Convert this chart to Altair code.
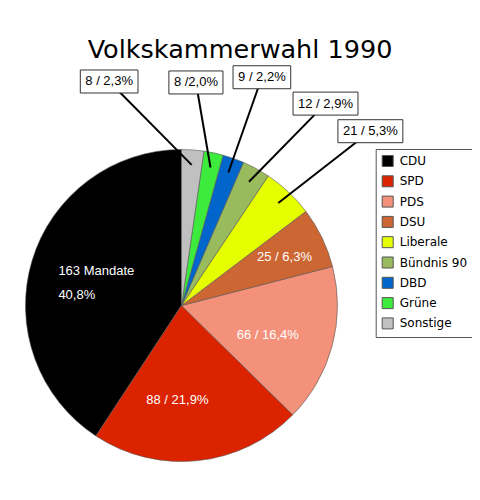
import math
import altair as alt
import pandas as pd

# ---------------- data ----------------
parties = ["CDU", "SPD", "PDS", "DSU", "Liberale", "Bündnis 90", "DBD", "Grüne", "Sonstige"]
seats = [163, 88, 66, 25, 21, 12, 9, 8, 8]
percent = [40.8, 21.9, 16.4, 6.3, 5.3, 2.9, 2.2, 2.0, 2.3]
labels = ["163 Mandate\n40,8%", "88 / 21,9%", "66 / 16,4%", "25 / 6,3%",
          "21 / 5,3%", "12 / 2,9%", "9 / 2,2%", "8 /2,0%", "8 / 2,3%"]
colors = ["#000000", "#dc2300", "#f4917a", "#cc6633", "#e6ff00",
          "#99bb5e", "#0066cc", "#3deb3d", "#c0c0c0"]
chart_title = "Volkskammerwahl 1990"

# ---------------- layout ----------------
W, H = 464, 414          # view size (pixels)
PAD_TOP = 70
CX, CY = 173.5, 227.5    # pie centre inside the view
R = 156                  # pie radius
# inner labels: (radius, angle nudge in degrees from slice middle)
INNER = {"CDU": (88, -2.1), "SPD": (95, 8.6), "PDS": (91, 3.6), "DSU": (114, 0.4)}
# callouts: (box radius, box angle in degrees)
CALLOUT = {"Liberale": (257, 47.3), "Bündnis 90": (248, 35.5), "DBD": (242, 19.4),
           "Grüne": (223.5, 3.7), "Sonstige": (235.4, -17.9)}
LEAD_R = 141
BOX_H = 23
BOX_PAD = 5
FS = 13
LINE_H = 24

ARIAL = {c: 0.556 for c in "0123456789"}
ARIAL.update({" ": 0.278, "/": 0.278, ",": 0.278, "%": 0.889, "M": 0.833,
              "a": 0.556, "n": 0.556, "d": 0.556, "t": 0.278, "e": 0.556})


def text_w(s, size=FS):
    return max(sum(ARIAL.get(c, 0.556) for c in line) for line in s.split("\n")) * size


total = sum(percent)
n = len(parties)
cw_rank = {p: n - 1 - i for i, p in enumerate(parties)}   # clockwise from top
mid_deg = {}
acc = 0.0
for p, v in zip(parties[::-1], percent[::-1]):
    mid_deg[p] = (acc + v / 2) / total * 360
    acc += v


def polar(r, deg):
    a = math.radians(deg)
    return r * math.sin(a), r * math.cos(a)


pie_df = pd.DataFrame({"party": parties, "percent": percent, "seats": seats,
                       "cw": [cw_rank[p] for p in parties]})

inner_rows, call_rows = [], []
for p, lab in zip(parties, labels):
    if p in INNER:
        r, d = INNER[p]
        x, y = polar(r, mid_deg[p] + d)
        n_lines = lab.count("\n") + 1
        inner_rows.append({"party": p, "text": lab, "x": x - text_w(lab) / 2,
                           "y": y + (n_lines - 1) * LINE_H / 2})
    else:
        br, ba = CALLOUT[p]
        bx, by = polar(br, ba)
        xi, yi = polar(LEAD_R, mid_deg[p])
        w = text_w(lab) + 2 * BOX_PAD
        call_rows.append({"party": p, "text": lab, "xi": xi, "yi": yi, "bx": bx, "by": by,
                          "x0": bx - w / 2, "x1": bx + w / 2,
                          "y0": by - BOX_H / 2, "y1": by + BOX_H / 2})
inner_df = pd.DataFrame(inner_rows)
call_df = pd.DataFrame(call_rows)

xs = alt.Scale(domain=[-CX, W - CX], nice=False, zero=False)
ys = alt.Scale(domain=[-(H - CY), CY], nice=False, zero=False)

pie = alt.Chart(pie_df).mark_arc(radius=R, stroke="#555555", strokeWidth=0.6).encode(
    theta=alt.Theta("percent:Q", stack=True),
    order=alt.Order("cw:Q"),
    color=alt.Color("party:N", scale=alt.Scale(domain=parties, range=colors),
                    legend=alt.Legend(orient="none", legendX=367.7, legendY=71, title=None,
                                      symbolType="square", symbolSize=121,
                                      symbolStrokeColor="#555555", symbolStrokeWidth=1,
                                      labelFont="DejaVu Sans", labelFontSize=12,
                                      labelColor="black", labelOffset=6,
                                      strokeColor="#555555", fillColor="white",
                                      padding=6, rowPadding=4.3)),
    x=alt.XDatum(0, type="quantitative", scale=xs, axis=None),
    y=alt.YDatum(0, type="quantitative", scale=ys, axis=None),
)

leaders = alt.Chart(call_df).mark_rule(color="black", strokeWidth=2).encode(
    x=alt.X("xi:Q", scale=xs, axis=None), y=alt.Y("yi:Q", scale=ys, axis=None),
    x2="bx:Q", y2="by:Q")

boxes = alt.Chart(call_df).mark_rect(fill="white", stroke="#333333", strokeWidth=1).encode(
    x=alt.X("x0:Q", scale=xs, axis=None), x2="x1:Q",
    y=alt.Y("y0:Q", scale=ys, axis=None), y2="y1:Q")

box_text = alt.Chart(call_df).mark_text(font="Liberation Sans", fontSize=FS, color="black").encode(
    x=alt.X("bx:Q", scale=xs, axis=None), y=alt.Y("by:Q", scale=ys, axis=None), text="text:N")

inner_text = alt.Chart(inner_df).mark_text(font="Liberation Sans", fontSize=FS, color="white",
                                           align="left", lineBreak="\n", lineHeight=LINE_H).encode(
    x=alt.X("x:Q", scale=xs, axis=None), y=alt.Y("y:Q", scale=ys, axis=None), text="text:N")

chart = alt.layer(pie, leaders, boxes, box_text, inner_text).properties(
    width=W, height=H,
    title=alt.TitleParams(chart_title, font="DejaVu Sans", fontSize=25.5, fontWeight="normal",
                          color="black", anchor="middle", offset=21, baseline="alphabetic",
                          dy=39),
    padding={"left": 0, "top": PAD_TOP, "right": 0, "bottom": 0},
    autosize="none",
).configure_view(stroke=None)

chart.save("out.html", embed_options={"renderer": "svg", "actions": False})
